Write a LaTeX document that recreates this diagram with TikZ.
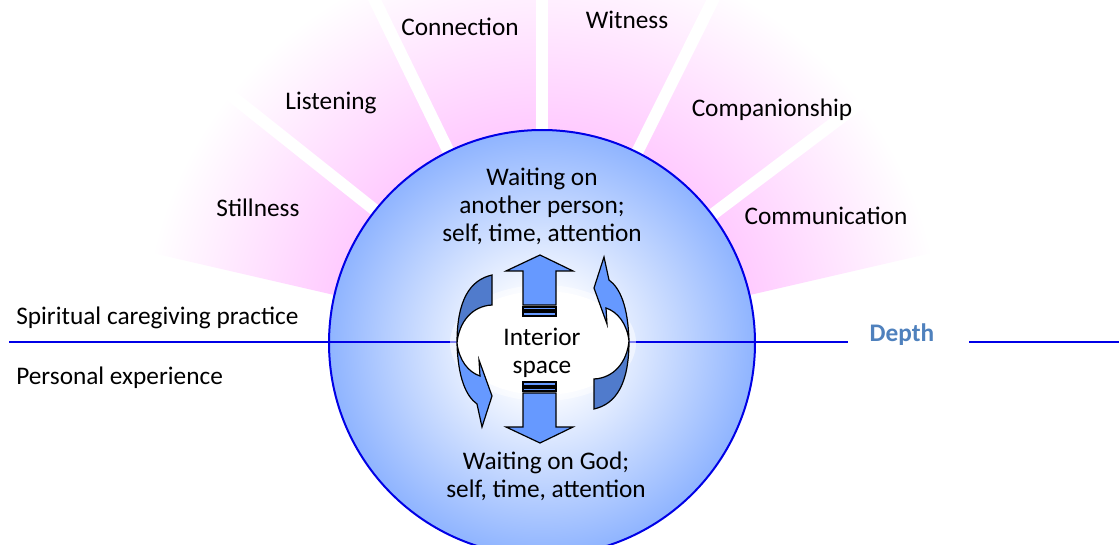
\documentclass[tikz,border=0pt]{standalone}
\usepackage{fontspec}
\setmainfont{Carlito}
\usepackage{tikz}
\usetikzlibrary{positioning}
\usetikzlibrary{arrows.meta}

\definecolor{fanpink}{RGB}{255,204,255}
\definecolor{discblue}{RGB}{143,180,255}
\definecolor{axisblue}{RGB}{0,0,230}
\definecolor{arrowblue}{RGB}{102,153,255}
\definecolor{arrowdark}{RGB}{80,123,204}
\definecolor{depthblue}{RGB}{79,129,189}

\pgfdeclareradialshading{fanglow}{\pgfpoint{0bp}{0bp}}{color(0bp)=(fanpink); color(13.5bp)=(fanpink); color(25bp)=(white); color(50bp)=(white)}
\pgfdeclareradialshading{discglow}{\pgfpoint{0bp}{0bp}}{color(0bp)=(white); color(5bp)=(white); color(25bp)=(discblue); color(50bp)=(discblue)}

\tikzset{
    label text/.style={font=\fontsize{18}{20}\selectfont, text height=12pt, text depth=3pt},
    block text/.style={font=\fontsize{18}{20}\selectfont, align=center},
    gap line/.style={white, line width=3mm},
    axis line/.style={axisblue, line width=0.5mm},
    block arrow/.style={fill=arrowblue, draw=black, line width=0.3mm, line join=miter},
}

\begin{document}
\begin{tikzpicture}[x=0.25mm, y=0.25mm]
    \useasboundingbox (0,0) rectangle (1119,-545);
    \coordinate (ctr) at (542,-343);

    % fan of practices
    \begin{scope}
        \clip (ctr) -- ++(13:430) arc[start angle=13, end angle=167, radius=430] -- cycle;
        \shade[shading=fanglow] (ctr) circle (400);
        \foreach \a in {37,63.5,90,116,141.5}
            \draw[gap line] (ctr) -- ++(\a:440);
    \end{scope}

    % disc
    \shade[shading=discglow] (ctr) circle (213);
    \coordinate (axisL) at (9,-342);
    \coordinate (axisR) at (1119,-342);
    \coordinate (gapL) at (848,-342);
    \coordinate (gapR) at (969,-342);
    \draw[axis line] (axisL) -- (gapL);
    \draw[axis line] (gapR) -- (axisR);
    \fill[white, opacity=0.5] (543,-343) ellipse (93 and 58);
    \fill[white] (543,-343) ellipse (86 and 52);
    \draw[axisblue, line width=0.5mm] (ctr) circle (213);

    % turning arrows
    \foreach \r in {0,180} {
        \begin{scope}[rotate around={\r:(543,-342)}]
            \draw[fill=arrowdark, line width=0.3mm] (492,-275) .. controls (470,-280) and (457,-300) .. (457,-343)
                .. controls (459,-322) and (472,-306) .. (492,-305) -- cycle;
            \draw[fill=arrowblue, line width=0.3mm, line join=miter] (457,-343) .. controls (458,-378) and (466,-396) .. (477,-404)
                -- (482,-427) -- (492,-396) -- (479,-360) -- (480,-376)
                .. controls (468,-372) and (459,-360) .. (457,-343) -- cycle;
        \end{scope}
    }

    % up and down arrows
    \foreach \m in {1,-1} {
        \begin{scope}[shift={(0,{-349*(1-\m)})}, yscale=\m]
            \draw[block arrow] (523,-305) -- (523,-271) -- (506,-271) -- (540,-255)
                -- (573,-271) -- (556,-271) -- (556,-305) -- cycle;
            \draw[block arrow] (523,-307) rectangle (556,-310);
            \draw[block arrow] (523,-312) rectangle (556,-316);
        \end{scope}
    }

    \path
        node (stillness) at (258,-210) [label text] {Stillness}
        node (listening) at (331,-103) [label text] {Listening}
        node (connection) at (460,-29) [label text] {Connection}
        node (witness) at (627,-22) [label text] {Witness}
        node (companion) at (772,-110) [label text] {Companionship}
        node (communic) at (826,-218) [label text] {Communication};
    \path
        node (person) at (542,-206) [block text] {Waiting on\\another person;\\self, time, attention}
        node (interior) at (542,-353) [block text] {Interior\\space}
        node (god) at (546,-476) [block text] {Waiting on God;\\self, time, attention};
    \path
        node (practice) at (16,-318) [label text, anchor=west, inner sep=0pt] {Spiritual caregiving practice}
        node (personal) at (16,-378) [label text, anchor=west, inner sep=0pt] {Personal experience}
        node (depth) at (902,-335) [label text, depthblue, font=\fontsize{18}{20}\selectfont\bfseries] {Depth};
\end{tikzpicture}
\end{document}
